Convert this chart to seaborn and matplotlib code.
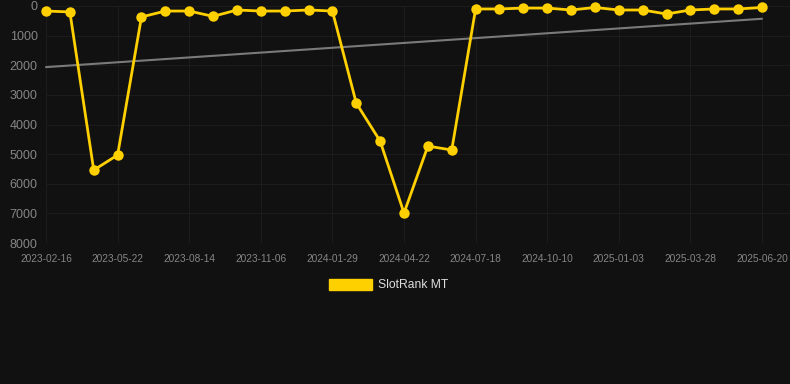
import matplotlib
matplotlib.use("Agg")
import matplotlib.pyplot as plt
import seaborn as sns
import numpy as np
import pandas as pd
from matplotlib.patches import Patch

# ---- data ----
rank_values = [170, 200, 5540, 5030, 370, 170, 170, 350, 135, 170,
               170, 135, 170, 3280, 4560, 6990, 4730, 4860, 100, 100,
               70, 70, 135, 50, 135, 135, 270, 135, 100, 100, 50]
tick_labels = ["2023-02-16", "2023-05-22", "2023-08-14", "2023-11-06",
               "2024-01-29", "2024-04-22", "2024-07-18", "2024-10-10",
               "2025-01-03", "2025-03-28", "2025-06-20"]
series_name = "SlotRank MT"
y_ticks = [0, 1000, 2000, 3000, 4000, 5000, 6000, 7000, 8000]

df = pd.DataFrame({"idx": np.arange(len(rank_values)), "rank": rank_values})

bg = "#111111"
gold = "#FFD000"

sns.set_theme(style="dark")
plt.rcParams["font.family"] = ["Liberation Sans", "DejaVu Sans"]

fig = plt.figure(figsize=(7.9, 3.84), dpi=100, facecolor=bg)
ax = fig.add_axes([46 / 790, 1 - 243 / 384, 1 - 46 / 790, (243 - 6) / 384])
ax.set_facecolor(bg)

# trend line (linear regression)
sns.regplot(data=df, x="idx", y="rank", scatter=False, ci=None, ax=ax,
            line_kws=dict(color="#7a7a7a", lw=1.5, zorder=2))

sns.lineplot(data=df, x="idx", y="rank", ax=ax, color=gold, lw=2.0,
             marker="o", markersize=7.5, markeredgewidth=0,
             markeredgecolor=gold, zorder=3, label=series_name, legend=False)
for ln in ax.lines:
    ln.set_clip_on(False)

ax.set_xlim(0, 30 + 28 / 23.87)
ax.set_ylim(8000, 0)
ax.set_yticks(y_ticks)
ax.set_yticklabels([str(v) for v in y_ticks])
tick_pos = list(range(0, len(rank_values), 3))
ax.set_xticks(tick_pos)
ax.set_xticklabels(tick_labels)

ax.grid(True, color="#1c1c1c", lw=0.8)
ax.set_axisbelow(True)
for s in ax.spines.values():
    s.set_visible(False)
ax.tick_params(axis="y", colors="#858585", labelsize=9, length=0, pad=6)
ax.tick_params(axis="x", colors="#858585", labelsize=7.3, length=0, pad=8)
ax.set_xlabel("")
ax.set_ylabel("")

# legend
handle = Patch(facecolor=gold, edgecolor=gold)
fig.legend([handle], [series_name], loc="center", bbox_to_anchor=(0.492, 1 - 285 / 384),
           frameon=False, handlelength=3.5, handleheight=1.0, fontsize=8.7,
           labelcolor="#dddddd", handletextpad=0.5)

fig.savefig("out.png", dpi=100, facecolor=bg)
